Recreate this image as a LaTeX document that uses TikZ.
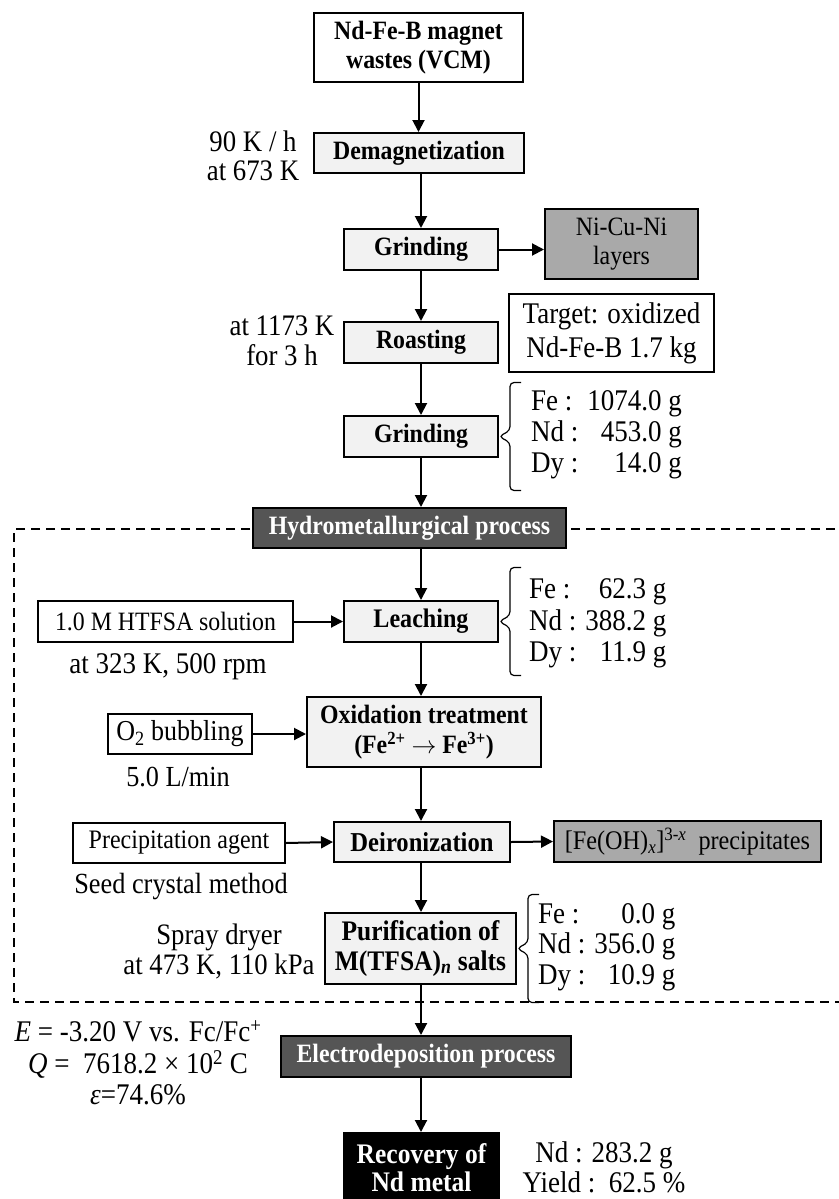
\documentclass[tikz,border=0pt]{standalone}
\usepackage{fontspec}
\setmainfont[FakeStretch=0.9]{Liberation Serif}
\usetikzlibrary{arrows.meta,calc}
\definecolor{lightbox}{HTML}{F2F2F2}
\definecolor{midbox}{HTML}{A9A9A9}
\definecolor{darkbox}{HTML}{555555}
\newcommand\fsz[2]{\fontsize{\fpeval{#1/0.9}}{#2}\selectfont}
\newcommand\curlybr[1]{\draw[brk] ($(#1.east)+(22,-54)$) -- ++(-11,0) -- ++(0,48) -- ++(-11,6) -- ++(11,6) -- ++(0,48) -- ++(11,0);}
\begin{document}
\begin{tikzpicture}[x=1pt,y=-1pt,
  base/.style={draw=black, line width=2pt, inner sep=0pt, align=center, font=\fsz{23.8}{28}},
  pbox/.style={base, fill=lightbox, font=\fsz{23.8}{28}\bfseries},
  wbox/.style={base, fill=white},
  gbox/.style={base, fill=midbox},
  dbox/.style={base, fill=darkbox, text=white, font=\fsz{23.8}{28}\bfseries},
  kbox/.style={base, fill=black, text=white, font=\fsz{25.5}{28}\bfseries},
  lbl/.style={inner sep=0pt, align=center, font=\fsz{26.8}{29}},
  arr/.style={line width=2pt, -{Triangle[length=12pt,width=12pt]}},
  brk/.style={line width=1.2pt, rounded corners=4pt},
  dashbox/.style={line width=2pt, dash pattern=on 9pt off 6pt}]
\fill[white] (0,0) rectangle (838,1199);
\useasboundingbox (0,0) rectangle (838,1199);
% dashed region of the hydrometallurgical process
\draw[dashbox] (850,529) -- (14,529) -- (14,1002) -- (850,1002);
% process boxes
\node[pbox, fill=white, minimum width=209pt, minimum height=69pt, font=\fsz{23.8}{29}\bfseries] (n1) at (418.5,47.5) {Nd-Fe-B magnet\\wastes (VCM)};
\node[pbox, minimum width=210pt, minimum height=40pt] (demag) at (419,153) {Demagnetization};
\node[pbox, minimum width=154pt, minimum height=41pt] (grind1) at (421,249.5) {Grinding};
\node[gbox, minimum width=153pt, minimum height=70pt, font=\fsz{23.8}{29}] (nicuni) at (621.5,244) {Ni-Cu-Ni\\layers};
\node[pbox, minimum width=154pt, minimum height=41pt] (roast) at (421,342.5) {Roasting};
\node[wbox, minimum width=205pt, minimum height=78pt, font=\fsz{27}{34}] (target) at (611.5,333) {Target: oxidized\\Nd-Fe-B 1.7 kg};
\node[pbox, minimum width=154pt, minimum height=41pt] (grind2) at (421,436.5) {Grinding};
\node[dbox, minimum width=313pt, minimum height=40pt] (hydro) at (409.5,528) {Hydrometallurgical process};
\node[wbox, minimum width=255pt, minimum height=41pt] (htfsa) at (165.5,621.5) {1.0 M HTFSA solution};
\node[pbox, minimum width=154pt, minimum height=41pt, font=\fsz{24.1}{28}\bfseries] (leach) at (421,621.5) {Leaching};
\node[wbox, minimum width=144pt, minimum height=40pt, font=\fsz{26}{28}] (o2) at (180,734) {O\textsubscript{2} bubbling};
\node[pbox, minimum width=234pt, minimum height=70pt, font=\fsz{23.8}{29.5}\bfseries] (oxid) at (424,732) {Oxidation treatment\\(Fe\textsuperscript{2+} $\rightarrow$ Fe\textsuperscript{3+})};
\node[wbox, minimum width=212pt, minimum height=40pt, font=\fsz{24}{28}] (precip) at (179,843) {Precipitation agent};
\node[pbox, minimum width=176pt, minimum height=40pt, font=\fsz{24.6}{28}\bfseries] (deiron) at (422,842) {Deironization};
\node[gbox, minimum width=267pt, minimum height=41pt, font=\fsz{24.2}{28}] (feoh) at (687.5,841.5) {[Fe(OH)\textsubscript{\textit{x}}]\textsuperscript{3-\textit{x}}\ \ precipitates};
\node[pbox, minimum width=191pt, minimum height=71pt, font=\fsz{25.5}{29.5}\bfseries] (purif) at (420.5,948.5) {Purification of\\M(TFSA)\textsubscript{\textit{n}} salts};
\node[dbox, minimum width=290pt, minimum height=41pt] (electro) at (426,1056.5) {Electrodeposition process};
\node[kbox, minimum width=155pt, minimum height=70pt] (recov) at (421.5,1168) {Recovery of\\Nd metal};
% side labels
\node[lbl, font=\fsz{26.8}{29}] (l1) at (253,156) {90 K / h\\at 673 K};
\node[lbl, font=\fsz{26.8}{29.5}] (l2) at (282,341) {at 1173 K\\for 3 h};
\node[lbl, anchor=west, font=\fsz{27}{31}] (m1) at (531,435) {\begin{tabular}{@{}l@{ }r@{}}Fe : & 1074.0 g\\Nd : & 453.0 g\\Dy : & 14.0 g\end{tabular}};
\node[lbl, font=\fsz{27}{28}] (l3) at (168,667) {at 323 K, 500 rpm};
\node[lbl, anchor=west, font=\fsz{27}{31.5}] (m2) at (529,624) {\begin{tabular}{@{}l@{ }r@{}}Fe : & 62.3 g\\Nd : & 388.2 g\\Dy : & 11.9 g\end{tabular}};
\node[lbl, font=\fsz{26.2}{28}] (l4) at (178,777) {5.0 L/min};
\node[lbl, font=\fsz{26.3}{28}] (l5) at (181,887) {Seed crystal method};
\node[lbl, font=\fsz{26.7}{29.5}] (l6) at (219,951.5) {Spray dryer\\at 473 K, 110 kPa};
\node[lbl, anchor=west, font=\fsz{27}{30.5}] (m3) at (538,947.5) {\begin{tabular}{@{}l@{ }r@{}}Fe : & 0.0 g\\Nd : & 356.0 g\\Dy : & 10.9 g\end{tabular}};
\node[lbl, font=\fsz{27}{31.5}] (l7) at (138,1063) {\textit{E} = -3.20 V vs. Fc/Fc\textsuperscript{+}\\\textit{Q} =\ \ 7618.2 × 10\textsuperscript{2} C\\\textit{ε}=74.6\%};
\node[lbl, font=\fsz{27}{29.5}] (l8) at (604,1167.5) {Nd : 283.2 g\\Yield :\ \ 62.5 \%};
% brackets
\curlybr{grind2}
\curlybr{leach}
\curlybr{purif}
% connectors
\draw[arr] (n1.south) -- (n1.south |- demag.north);
\draw[arr] (grind1.north |- demag.south) -- (grind1.north);
\draw[arr] (grind1.east) -- (grind1.east -| nicuni.west);
\draw[arr] (grind1.south) -- (roast.north);
\draw[arr] (roast.south) -- (grind2.north);
\draw[arr] (grind2.south) -- (grind2.south |- hydro.north);
\draw[arr] (leach.north |- hydro.south) -- (leach.north);
\draw[arr] (htfsa.east) -- (leach.west);
\draw[arr] (leach.south) -- (leach.south |- oxid.north);
\draw[arr] (o2.east) -- (o2.east -| oxid.west);
\draw[arr] (leach.south |- oxid.south) -- (leach.south |- deiron.north);
\draw[arr] (precip.east) -- (deiron.west);
\draw[arr] (deiron.east) -- (feoh.west);
\draw[arr] (leach.south |- deiron.south) -- (leach.south |- purif.north);
\draw[arr] (leach.south |- purif.south) -- (leach.south |- electro.north);
\draw[arr] (leach.south |- electro.south) -- (leach.south |- recov.north);
\end{tikzpicture}
\end{document}
